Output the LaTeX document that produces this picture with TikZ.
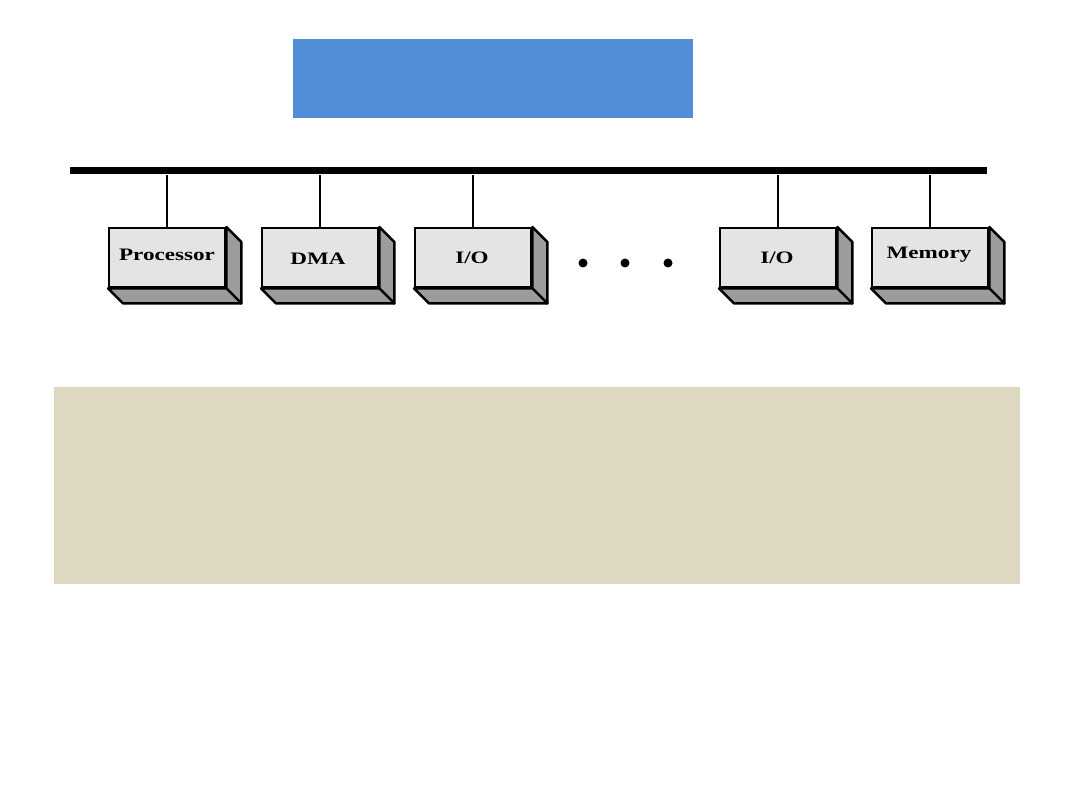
\documentclass[tikz,border=0pt]{standalone}
\usepackage{fontspec}
\newfontfamily\boxfont[FakeStretch=1.32]{Liberation Serif}
\definecolor{titleblue}{HTML}{528ED5}
\definecolor{beige}{HTML}{DED8C3}
\definecolor{facelight}{HTML}{E4E4E4}
\definecolor{faceshade}{HTML}{9C9C9C}
\tikzset{
  unitbox/.style={draw=black, line width=2.4pt, fill=facelight, minimum width=116pt, minimum height=59pt, inner sep=0pt},
  unitlabel/.style={font=\boxfont\bfseries\fontsize{17.5}{20}\selectfont},
  shadeface/.style={draw=black, line width=2.4pt, fill=faceshade, line join=round},
  link/.style={draw=black, line width=1.5pt},
  dotmark/.style={circle, fill=black, minimum size=9pt, inner sep=0pt}
}
\begin{document}
\begin{tikzpicture}[x=1pt,y=-1pt]
\useasboundingbox (0,0) rectangle (1080,810);
\fill[white] (0,0) rectangle (1080,810);
% title bar and text panel
\node[fill=titleblue, minimum width=400pt, minimum height=79pt, inner sep=0pt, anchor=north west] (title) at (293,39) {};
\node[fill=beige, minimum width=966pt, minimum height=197pt, inner sep=0pt, anchor=north west] (panel) at (54,387) {};
% bus
\node[fill=black, minimum width=917pt, minimum height=7pt, inner sep=0pt, anchor=west] (bus) at (70,171) {};
% units
\node[unitbox, anchor=north west] (proc) at (108,227) {};
\node[unitbox, anchor=north west] (dma) at (261,227) {};
\node[unitbox, anchor=north west] (io1) at (414,227) {};
\node[unitbox, anchor=north west] (io2) at (719,227) {};
\node[unitbox, anchor=north west] (mem) at (871,227) {};
\foreach \b in {proc,dma,io1,io2,mem}{
  \draw[shadeface] (\b.north east) -- ++(15,15) -- ([shift={(15,15)}]\b.south east) -- (\b.south east) -- cycle;
  \draw[shadeface] (\b.south west) -- (\b.south east) -- ([shift={(15,15)}]\b.south east) -- ([shift={(15,15)}]\b.south west) -- cycle;
  \draw[link] (\b.north) -- (\b.north |- bus.south);
}
% labels
\node[unitlabel] (lproc) at (167,255) {Processor};
\node[unitlabel] (ldma) at (318,259) {DMA};
\node[unitlabel] (lio1) at (472,258) {I/O};
\node[unitlabel] (lio2) at (777,258) {I/O};
\node[unitlabel] (lmem) at (929,255) {Memory};
% ellipsis dots
\node[dotmark] (d1) at (583,263) {};
\node[dotmark] (d2) at (625,263) {};
\node[dotmark] (d3) at (668,263) {};
\end{tikzpicture}
\end{document}
